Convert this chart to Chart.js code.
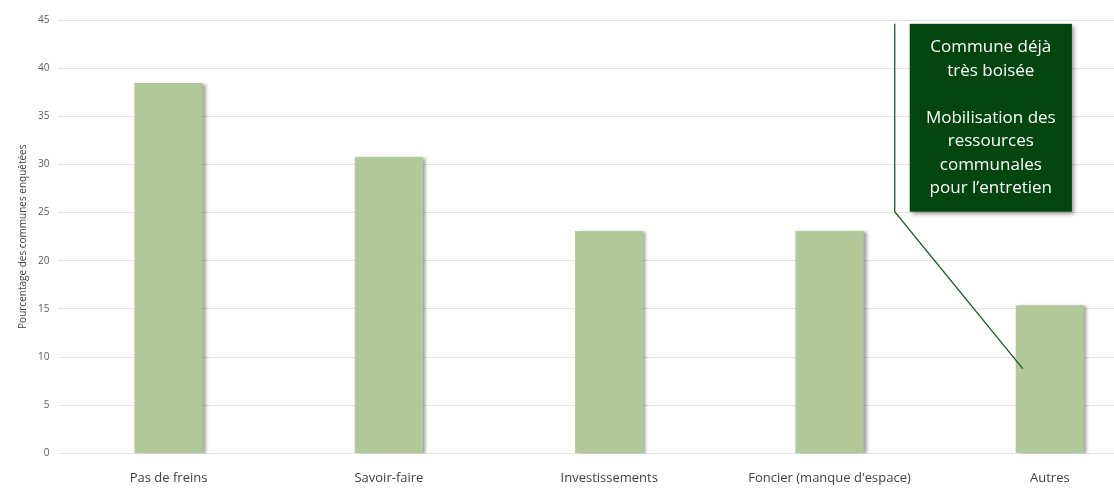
<!DOCTYPE html>
<html>
<head>
  <meta charset="utf-8">
  <title>Freins au boisement</title>
  <script src="https://cdn.jsdelivr.net/npm/chart.js"></script>
  <style>
    html, body { margin: 0; padding: 0; overflow: hidden; background: #fff; }
    #wrap { position: relative; width: 1160px; height: 495px; }
  </style>
</head>
<body>
  <div id="wrap">
    <canvas id="chart"></canvas>
  </div>

  <script>
    var categories = ["Pas de freins", "Savoir-faire", "Investissements", "Foncier (manque d'espace)", "Autres"];
    var pourcentages = [38.46, 30.77, 23.08, 23.08, 15.38];
    var yTicks = [0, 5, 10, 15, 20, 25, 30, 35, 40, 45];
    var noteLines = ["Commune déjà", "très boisée", "", "Mobilisation des", "ressources", "communales", "pour l’entretien"];

    // ombre légère à droite des barres
    var barShadow = {
      id: "barShadow",
      beforeDatasetsDraw: function (chart) {
        var ctx = chart.ctx;
        ctx.save();
        ctx.shadowColor = "rgba(0,0,0,0.35)";
        ctx.shadowBlur = 3;
        ctx.shadowOffsetX = 3;
        ctx.shadowOffsetY = 1;
      },
      afterDatasetsDraw: function (chart) {
        chart.ctx.restore();
      }
    };

    // encadré vert avec son trait de rappel vers "Autres"
    var calloutNote = {
      id: "calloutNote",
      afterDraw: function (chart) {
        var ctx = chart.ctx;
        var x = chart.scales.x, y = chart.scales.y;
        var step = x.getPixelForValue(1) - x.getPixelForValue(0);
        var boxL = x.getPixelForValue(3) + step * 0.364;
        var boxR = x.getPixelForValue(4) + step * 0.1;
        var boxT = y.getPixelForValue(44.6);
        var boxB = y.getPixelForValue(25.1);
        var lineX = boxL - 15;
        var endX = x.getPixelForValue(4) - step * 0.123;
        var endY = y.getPixelForValue(8.8);

        ctx.save();
        ctx.strokeStyle = "#1e5a28";
        ctx.lineWidth = 1.3;
        ctx.beginPath();
        ctx.moveTo(lineX, boxT);
        ctx.lineTo(lineX, boxB);
        ctx.lineTo(endX, endY);
        ctx.stroke();

        ctx.shadowColor = "rgba(0,0,0,0.4)";
        ctx.shadowBlur = 4;
        ctx.shadowOffsetX = 2;
        ctx.shadowOffsetY = 2;
        ctx.fillStyle = "#03450f";
        ctx.fillRect(boxL, boxT, boxR - boxL, boxB - boxT);
        ctx.shadowColor = "transparent";

        ctx.fillStyle = "#ffffff";
        ctx.font = "17px 'Open Sans', sans-serif";
        ctx.textAlign = "center";
        ctx.textBaseline = "middle";
        var cx = (boxL + boxR) / 2;
        var lh = 23.5;
        var startY = (boxT + boxB) / 2 - lh * (noteLines.length - 1) / 2;
        noteLines.forEach(function (t, i) {
          ctx.fillText(t, cx, startY + i * lh);
        });
        ctx.restore();
      }
    };

    new Chart(document.getElementById("chart").getContext("2d"), {
      type: "bar",
      data: {
        labels: categories,
        datasets: [{
          data: pourcentages,
          backgroundColor: "#b1c898",
          borderWidth: 0,
          barPercentage: 0.31,
          categoryPercentage: 1
        }]
      },
      options: {
        responsive: true,
        maintainAspectRatio: false,
        animation: false,
        layout: { padding: { top: 20, right: 0, left: 17, bottom: 0 } },
        plugins: {
          legend: { display: false },
          tooltip: { enabled: false }
        },
        scales: {
          x: {
            grid: { display: false },
            border: { display: false },
            ticks: {
              color: "#404040",
              font: { family: "'Open Sans', sans-serif", size: 13 },
              padding: 9
            }
          },
          y: {
            min: 0,
            max: 45,
            afterBuildTicks: function (axis) {
              axis.ticks = yTicks.map(function (v) { return { value: v }; });
            },
            grid: { color: "#e3e3e3", drawTicks: false },
            border: { display: false },
            ticks: {
              color: "#595959",
              font: { family: "'Open Sans', sans-serif", size: 10 },
              padding: 9
            },
            title: {
              display: true,
              text: "Pourcentage des communes enquêtées",
              color: "#404040",
              font: { family: "'Open Sans', sans-serif", size: 10 },
              padding: 0
            }
          }
        }
      },
      plugins: [barShadow, calloutNote]
    });
  </script>
</body>
</html>
